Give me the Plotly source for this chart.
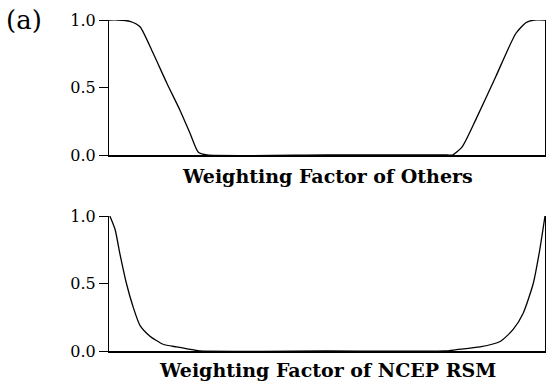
import plotly.graph_objects as go

# Top panel: weighting factor of others (x as % of domain)
others_x = [0, 2, 4.8, 7.1, 10.1, 13.3, 16.3, 18.6, 20.5, 22.5, 50, 77.5, 78.8, 81, 84.1, 88.7, 93.3, 95.6, 97.5, 100]
others_y = [1.0, 1.0, 0.99, 0.95, 0.755, 0.53, 0.33, 0.16, 0.02, 0.0, 0.0, 0.0, 0.0, 0.06, 0.26, 0.58, 0.9, 0.98, 1.0, 1.0]

# Bottom panel: weighting factor of NCEP RSM
ncep_x = [0.2, 1.4, 2.5, 4.0, 5.5, 7.1, 9.4, 12.4, 15.5, 19.2, 20.8, 50, 77, 79.7, 85.1, 89.7, 92.7, 95.0, 97.3, 98.8, 100]
ncep_y = [1.0, 0.9, 0.72, 0.5, 0.33, 0.19, 0.11, 0.05, 0.03, 0.01, 0.0, 0.0, 0.0, 0.01, 0.03, 0.07, 0.16, 0.28, 0.5, 0.75, 1.0]

tick_vals = [0.0, 0.5, 1.0]
tick_text = ["0.0", "0.5", "1.0"]
titles = ["Weighting Factor of Others", "Weighting Factor of NCEP RSM"]
panel_label = "(a)"

FONT = "DejaVu Serif, serif"
W, H = 550, 387


def px(v):
    return v / W


def py(v):
    return 1 - v / H


fig = go.Figure()
fig.add_trace(go.Scatter(x=others_x, y=others_y, mode="lines",
                         line=dict(color="black", width=1.3, shape="spline", smoothing=0.6),
                         xaxis="x", yaxis="y", showlegend=False, cliponaxis=False))
fig.add_trace(go.Scatter(x=ncep_x, y=ncep_y, mode="lines",
                         line=dict(color="black", width=1.3, shape="spline", smoothing=0.6),
                         xaxis="x2", yaxis="y2", showlegend=False, cliponaxis=False))

xd = [px(109), px(545)]
common_x = dict(range=[0, 100], showgrid=False, zeroline=False, showticklabels=False, ticks="",
                showline=True, linecolor="black", linewidth=1.8, automargin=False, fixedrange=True)
common_y = dict(range=[0, 1], showgrid=False, zeroline=False, tickvals=tick_vals, ticktext=tick_text,
                ticksuffix="\u2002\u00a0",
                ticks="outside", ticklen=9, tickcolor="black", tickwidth=1,
                showline=True, linecolor="black", linewidth=1, mirror=True, automargin=False, fixedrange=True,
                tickfont=dict(family=FONT, size=16, color="black"))

fig.update_layout(
    width=W, height=H, autosize=False,
    margin=dict(l=0, r=0, t=0, b=0, pad=0, autoexpand=False),
    showlegend=False,
    paper_bgcolor="white", plot_bgcolor="white",
    xaxis=dict(domain=xd, anchor="y", **common_x),
    yaxis=dict(domain=[py(155), py(20)], anchor="x", **common_y),
    xaxis2=dict(domain=xd, anchor="y2", **common_x),
    yaxis2=dict(domain=[py(351), py(216)], anchor="x2", **common_y),
    annotations=[
        dict(text="<b>" + titles[0] + "</b>", x=(xd[0] + xd[1]) / 2, y=py(176), xref="paper", yref="paper",
             showarrow=False, font=dict(family=FONT, size=19, color="black"), xanchor="center", yanchor="middle"),
        dict(text="<b>" + titles[1] + "</b>", x=(xd[0] + xd[1]) / 2, y=py(370), xref="paper", yref="paper",
             showarrow=False, font=dict(family=FONT, size=19, color="black"), xanchor="center", yanchor="middle"),
        dict(text=panel_label, x=px(24), y=py(20), xref="paper", yref="paper",
             showarrow=False, font=dict(family=FONT, size=26, color="black"), xanchor="center", yanchor="middle"),
    ],
)

fig.write_html(
    "out.html",
    config={"displayModeBar": False, "responsive": False},
    post_script="document.body.style.margin='0';document.body.style.overflow='hidden';"
                "document.documentElement.style.overflow='hidden';",
)
